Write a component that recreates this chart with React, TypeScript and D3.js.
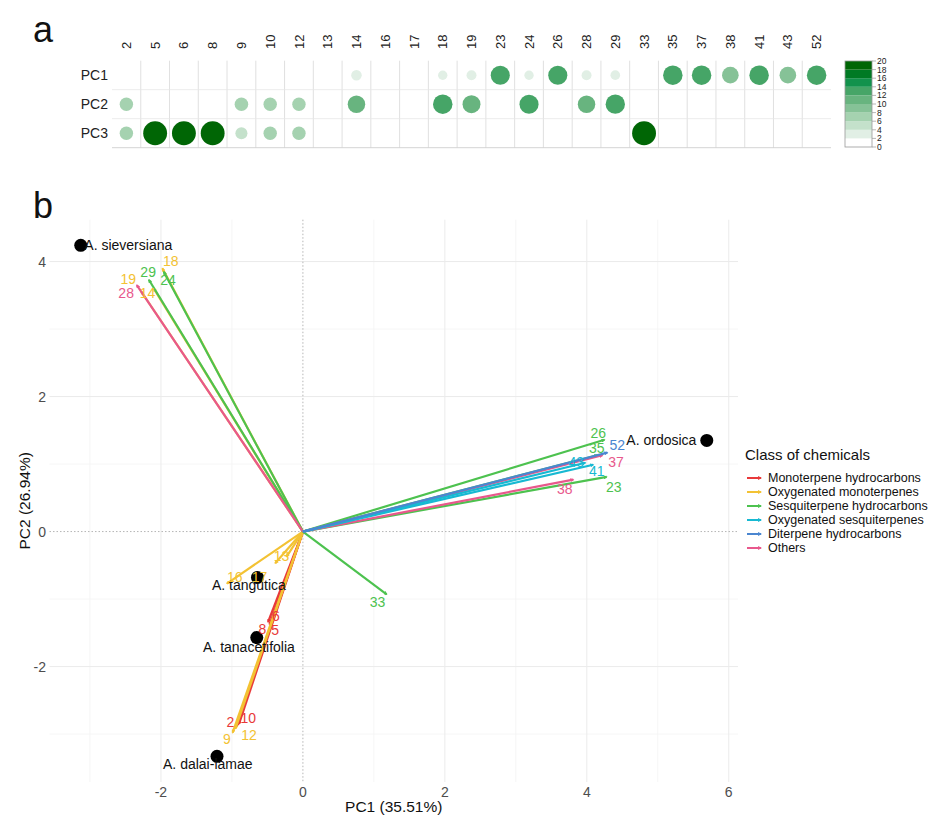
import React from 'react';
import * as d3 from 'd3';

// ---- panel a: contributions of variables to PCs ----
const headerVars = ['2', '5', '6', '8', '9', '10', '12', '13', '14', '16', '17', '18', '19', '23', '24', '26', '28', '29', '33', '35', '37', '38', '41', '43', '52'];
const pcRows = ['PC1', 'PC2', 'PC3'];
const pc1Contrib = [0, 0, 0, 0, 0, 0, 0, 0, 3.8, 0, 0, 3.0, 3.4, 12.5, 3.0, 12.5, 3.4, 3.2, 0, 13, 13, 9.5, 13, 9.5, 13];
const pc2Contrib = [6.2, 0, 0, 0, 6.3, 6.2, 6.2, 0, 10.5, 0, 0, 13, 11, 0, 12.5, 0, 10.5, 12.8, 0, 0, 0, 0, 0, 0, 0];
const pc3Contrib = [6.2, 19.5, 19.5, 19.5, 5, 6.2, 6.2, 0, 0, 0, 0, 0, 0, 0, 0, 0, 0, 0, 19.5, 0, 0, 0, 0, 0, 0];
const contribTicks = [0, 2, 4, 6, 8, 10, 12, 14, 16, 18, 20];
const greenSteps = ['#ffffff', '#e1efe5', '#c4e1cb', '#a5d2b0', '#86c297', '#68b47f', '#46a567', '#12924c', '#007a24', '#006605'];

// ---- panel b: biplot ----
const sampleNames = ['A. sieversiana', 'A. ordosica', 'A. tangutica', 'A. tanacetifolia', 'A. dalai-lamae'];
const samplePC1 = [-3.13, 5.69, -0.64, -0.65, -1.21];
const samplePC2 = [4.24, 1.35, -0.68, -1.57, -3.33];
const sampleLabelPC1 = [-2.46, 5.05, -0.76, -0.76, -1.34];
const sampleLabelPC2 = [4.24, 1.35, -0.79, -1.71, -3.44];

const classNames = ['Monoterpene hydrocarbons', 'Oxygenated monoterpenes', 'Sesquiterpene hydrocarbons', 'Oxygenated sesquiterpenes', 'Diterpene hydrocarbons', 'Others'];
const classColors = ['#e8393a', '#f3c233', '#4dc24f', '#17b9d2', '#4a86d0', '#e8588c'];

const varNames = ['2', '5', '6', '8', '10', '9', '12', '13', '14', '16', '17', '18', '19', '23', '24', '26', '29', '33', '35', '28', '37', '38', '41', '43', '52'];
const varClass = [0, 0, 0, 0, 0, 1, 1, 1, 1, 1, 1, 1, 1, 2, 2, 2, 2, 2, 2, 5, 5, 5, 3, 3, 4];
const varPC1 = [-0.93, -0.45, -0.49, -0.47, -0.9, -0.99, -0.95, -0.23, -2.1, -1.07, -0.39, -1.98, -2.28, 4.28, -1.96, 4.25, -2.17, 1.18, 4.15, -2.34, 4.22, 3.81, 4.09, 3.98, 4.29];
const varPC2 = [-2.88, -1.36, -1.34, -1.38, -2.85, -2.98, -2.92, -0.37, 3.6, -0.77, -0.47, 3.9, 3.56, 0.81, 3.85, 1.36, 3.73, -0.93, 1.13, 3.65, 1.13, 0.77, 0.99, 1.02, 1.17];
const varLabelPC1 = [-1.02, -0.39, -0.38, -0.57, -0.77, -1.07, -0.76, -0.3, -2.19, -0.96, -0.61, -1.86, -2.46, 4.38, -1.9, 4.16, -2.18, 1.05, 4.14, -2.49, 4.41, 3.69, 4.14, 3.85, 4.43];
const varLabelPC2 = [-2.83, -1.46, -1.25, -1.45, -2.77, -3.07, -3.01, -0.36, 3.53, -0.68, -0.68, 4.01, 3.74, 0.66, 3.72, 1.46, 3.85, -1.04, 1.24, 3.53, 1.03, 0.63, 0.89, 1.03, 1.28];

const xMajor = [-2, 0, 2, 4, 6];
const xMinor = [-3, -1, 1, 3, 5];
const yMajor = [-2, 0, 2, 4];
const yMinor = [-3, -1, 1, 3];

const FONT = 'Arial, "Liberation Sans", Helvetica, sans-serif';

const App: React.FC = () => {
  // panel a scales
  const colX = d3.scaleBand<string>().domain(headerVars).range([112, 831]);
  const rowY = d3.scaleBand<string>().domain(pcRows).range([60.7, 147.7]);
  const rMax = Math.min(colX.bandwidth(), rowY.bandwidth()) * 0.42;
  const rScale = d3.scaleSqrt().domain([0, 20]).range([0, rMax]);
  const fillScale = d3.scaleQuantize<string>().domain([0, 20]).range(greenSteps);
  const barY = d3.scaleLinear().domain([0, 20]).range([147, 61]);
  const rows = [pc1Contrib, pc2Contrib, pc3Contrib];

  // panel b scales
  const x = d3.scaleLinear().domain([-3.57, 6.13]).range([49.5, 738]);
  const y = d3.scaleLinear().domain([-3.71, 4.62]).range([782, 219.7]);
  const [px0, px1] = x.range();
  const [py0, py1] = y.range();

  return (
    <svg width={939} height={815} style={{ position: 'absolute', left: 0, top: 0, background: '#fff' }} fontFamily={FONT}>
      <defs>
        {classColors.map((c, i) => (
          <marker key={i} id={`arr${i}`} markerUnits="userSpaceOnUse" markerWidth={4.5} markerHeight={4}
            refX={3} refY={2} orient="auto" viewBox="0 0 4.5 4">
            <path d="M0,0 L4,2 L0,4 z" fill={c} />
          </marker>
        ))}
      </defs>

      {/* ---------- panel a ---------- */}
      <text x={33} y={42} fontSize={36} fill="#111">a</text>
      {headerVars.map((v, i) => i > 0 && (
        <line key={`vg${v}`} x1={colX(v)} x2={colX(v)} y1={rowY.range()[0]} y2={rowY.range()[1]} stroke="#d8d8d8" strokeWidth={0.8} />
      ))}
      {pcRows.map((r, i) => i > 0 && (
        <line key={`hg${r}`} x1={112} x2={831} y1={rowY(r)} y2={rowY(r)} stroke="#e6e6e6" strokeWidth={0.8} />
      ))}
      <line x1={112} x2={831} y1={rowY.range()[1]} y2={rowY.range()[1]} stroke="#cfcfcf" strokeWidth={0.9} />
      {headerVars.map(v => (
        <text key={`h${v}`} transform={`translate(${colX(v)! + colX.bandwidth() / 2},49) rotate(-90)`}
          fontSize={13} fill="#222" dy="0.35em">{v}</text>
      ))}
      {pcRows.map(r => (
        <text key={`r${r}`} x={108} y={rowY(r)! + rowY.bandwidth() / 2} dy="0.36em" textAnchor="end" fontSize={14} fill="#222">{r}</text>
      ))}
      {rows.map((vals, ri) => vals.map((v, ci) => v > 0 && (
        <circle key={`c${ri}-${ci}`} cx={colX(headerVars[ci])! + colX.bandwidth() / 2} cy={rowY(pcRows[ri])! + rowY.bandwidth() / 2}
          r={rScale(v)} fill={fillScale(v)} />
      )))}
      {/* colour bar */}
      {greenSteps.map((c, i) => (
        <rect key={`cb${i}`} x={845} width={27} y={barY(contribTicks[i + 1])} height={barY(contribTicks[i]) - barY(contribTicks[i + 1])} fill={c} />
      ))}
      <rect x={845} width={27} y={barY(20)} height={barY(0) - barY(20)} fill="none" stroke="#9a9a9a" strokeWidth={0.8} />
      {contribTicks.map(t => (
        <g key={`ct${t}`}>
          <line x1={872} x2={876} y1={barY(t)} y2={barY(t)} stroke="#999" strokeWidth={0.7} />
          <text x={877} y={barY(t)} dy="0.35em" fontSize={8.5} fill="#222">{t}</text>
        </g>
      ))}

      {/* ---------- panel b ---------- */}
      <text x={33} y={218} fontSize={36} fill="#111">b</text>
      {xMinor.map(v => <line key={`xm${v}`} x1={x(v)} x2={x(v)} y1={py1} y2={py0} stroke="#f3f3f3" strokeWidth={0.8} />)}
      {yMinor.map(v => <line key={`ym${v}`} y1={y(v)} y2={y(v)} x1={px0} x2={px1} stroke="#f3f3f3" strokeWidth={0.8} />)}
      {xMajor.filter(v => v !== 0).map(v => <line key={`xM${v}`} x1={x(v)} x2={x(v)} y1={py1} y2={py0} stroke="#ebebeb" strokeWidth={1} />)}
      {yMajor.filter(v => v !== 0).map(v => <line key={`yM${v}`} y1={y(v)} y2={y(v)} x1={px0} x2={px1} stroke="#ebebeb" strokeWidth={1} />)}
      <line x1={x(0)} x2={x(0)} y1={py1} y2={py0} stroke="#b5b5b5" strokeWidth={1} strokeDasharray="1.5,2" />
      <line y1={y(0)} y2={y(0)} x1={px0} x2={px1} stroke="#b5b5b5" strokeWidth={1} strokeDasharray="1.5,2" />

      {xMajor.map(v => (
        <text key={`xt${v}`} x={x(v)} y={797} textAnchor="middle" fontSize={14} fill="#4d4d4d">{v < 0 ? `-${-v}` : v}</text>
      ))}
      {yMajor.map(v => (
        <text key={`yt${v}`} x={46} y={y(v)} dy="0.36em" textAnchor="end" fontSize={14} fill="#4d4d4d">{v < 0 ? `-${-v}` : v}</text>
      ))}
      <text x={(px0 + px1) / 2} y={812} textAnchor="middle" fontSize={15.5} fill="#111">PC1 (35.51%)</text>
      <text transform={`translate(25,${(py0 + py1) / 2}) rotate(-90)`} textAnchor="middle" dy="0.35em" fontSize={15.5} fill="#111">PC2 (26.94%)</text>

      {/* variable arrows */}
      {varNames.map((n, i) => (
        <line key={`va${n}`} x1={x(0)} y1={y(0)} x2={x(varPC1[i])} y2={y(varPC2[i])}
          stroke={classColors[varClass[i]]} strokeWidth={2.2} markerEnd={`url(#arr${varClass[i]})`} />
      ))}

      {/* samples */}
      {sampleNames.map((s, i) => (
        <circle key={`sp${i}`} cx={x(samplePC1[i])} cy={y(samplePC2[i])} r={6.5} fill="#000" />
      ))}
      {sampleNames.map((s, i) => (
        <text key={`sl${i}`} x={x(sampleLabelPC1[i])} y={y(sampleLabelPC2[i])} dy="0.35em" textAnchor="middle" fontSize={14} fill="#111">{s}</text>
      ))}
      {varNames.map((n, i) => (
        <text key={`vl${n}`} x={x(varLabelPC1[i])} y={y(varLabelPC2[i])} dy="0.35em" textAnchor="middle" fontSize={14}
          fill={classColors[varClass[i]]}>{n}</text>
      ))}

      {/* legend */}
      <text x={745} y={455} dy="0.35em" fontSize={15} fill="#111">Class of chemicals</text>
      {classNames.map((c, i) => (
        <g key={`lg${i}`} transform={`translate(0,${478 + i * 14})`}>
          <line x1={747} x2={761} y1={0} y2={0} stroke={classColors[i]} strokeWidth={2} markerEnd={`url(#arr${i})`} />
          <text x={768} y={0} dy="0.35em" fontSize={12.5} fill="#111">{c}</text>
        </g>
      ))}
    </svg>
  );
};

export default App;
